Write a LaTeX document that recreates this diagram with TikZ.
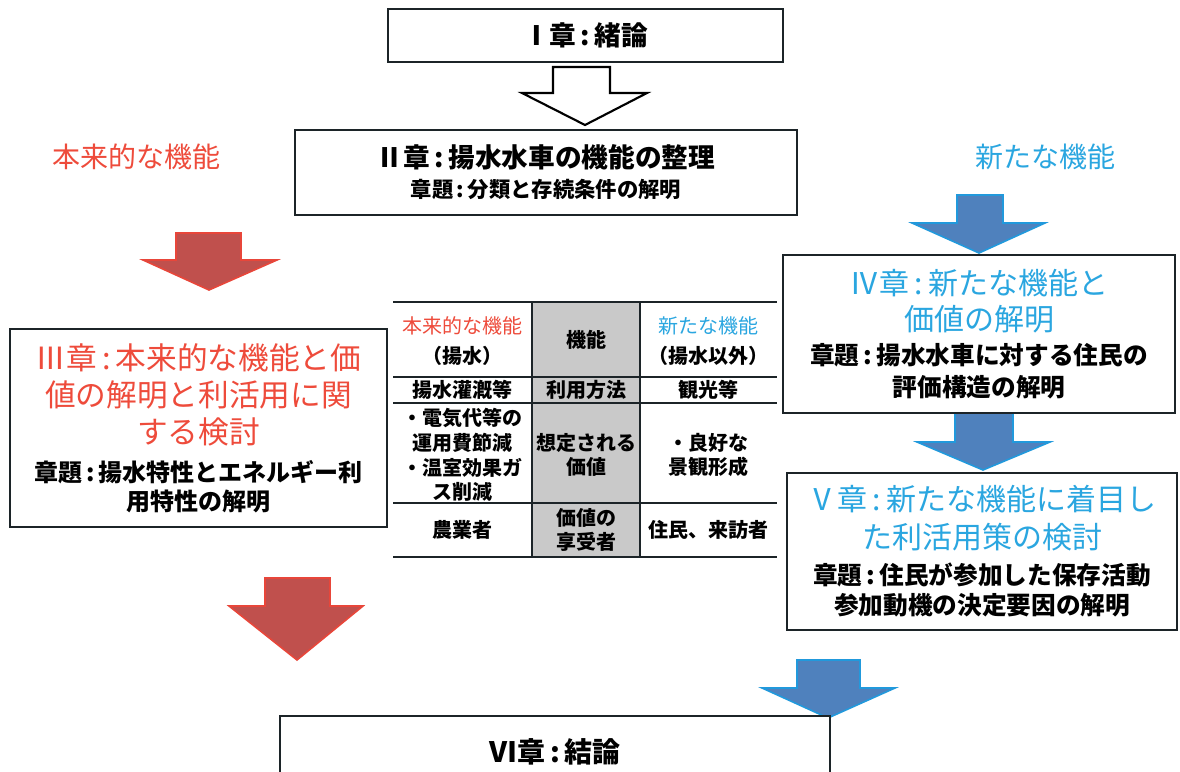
\documentclass[tikz,border=0pt]{standalone}
\usepackage{fontspec}
\setmainfont{Noto Sans CJK JP}
\definecolor{boxline}{HTML}{1C2428}
\definecolor{redtext}{HTML}{EE4B3B}
\definecolor{bluetext}{HTML}{2AA6E0}
\definecolor{redfill}{HTML}{C0504D}
\definecolor{rededge}{HTML}{E8463A}
\definecolor{bluefill}{HTML}{4F81BD}
\definecolor{blueedge}{HTML}{2199DC}
\definecolor{cellgray}{HTML}{C9C9C9}
\newcommand\subtxt[2]{{\fontsize{#1}{#1}\selectfont\bfseries #2}}
\newcommand\cln{\,:\,}
\begin{document}
\begin{tikzpicture}[x=0.75pt,y=-0.75pt,
  box/.style={draw=boxline, line width=1.5pt, fill=white, inner sep=0pt, align=center},
  cell/.style={align=center, inner sep=0pt, font=\fontsize{15pt}{18pt}\selectfont\bfseries},
  tline/.style={draw=boxline, line width=1.5pt},
  redarrow/.style={fill=redfill, draw=rededge, line width=1.2pt, line join=miter},
  bluearrow/.style={fill=bluefill, draw=blueedge, line width=1.2pt, line join=miter},
  hollowarrow/.style={fill=white, draw=black, line width=1.6pt, line join=miter},
  sidelabel/.style={inner sep=0pt, font=\fontsize{21pt}{21pt}\selectfont}
]
\useasboundingbox (0,0) rectangle (1180,771);
\clip (0,0) rectangle (1180,771);
\fill[white] (0,0) rectangle (1180,771);

% block arrows
\draw[hollowarrow] (553,67) -- (610,67) -- (610,93) -- (647,93) -- (585,125) -- (522,93) -- (553,93) -- cycle;
\draw[redarrow] (176,233) -- (241,233) -- (241,260) -- (277,260) -- (209,290) -- (143,260) -- (176,260) -- cycle;
\draw[redarrow] (265,578) -- (330,578) -- (330,606) -- (363,606) -- (297,660) -- (229,606) -- (265,606) -- cycle;
\draw[bluearrow] (957,195) -- (1003,195) -- (1003,223) -- (1045,223) -- (979,253) -- (912,223) -- (957,223) -- cycle;
\draw[bluearrow] (955,410) -- (1013,410) -- (1013,442) -- (1050,442) -- (983,470) -- (917,442) -- (955,442) -- cycle;
\draw[bluearrow] (797,660) -- (860,660) -- (860,688) -- (895,688) -- (828,718) -- (762,688) -- (797,688) -- cycle;

% side labels
\node[sidelabel, text=redtext] (lred) at (136,157) {本来的な機能};
\node[sidelabel, text=bluetext] (lblue) at (1045,157) {新たな機能};

% boxes
\node[box, minimum width=296.25pt, minimum height=39.75pt, font=\fontsize{20pt}{20pt}\selectfont\bfseries] (b1) at (585.5,35.5) {Ⅰ章\cln 緒論};

\node[box, minimum width=376.5pt, minimum height=63.75pt, font=\fontsize{20pt}{22.5pt}\selectfont\bfseries] (b2) at (546,172.5)
  {Ⅱ章\cln 揚水水車の機能の整理\\ \subtxt{16pt}{章題\cln 分類と存続条件の解明}};

\node[box, minimum width=282.75pt, minimum height=148.5pt, font=\fontsize{23pt}{28pt}\selectfont] (b3) at (198.5,428)
  {\textcolor{redtext}{Ⅲ章\cln 本来的な機能と価}\\
   \textcolor{redtext}{値の解明と利活用に関}\\
   \textcolor{redtext}{する検討}\\
   \subtxt{18pt}{章題\cln 揚水特性とエネルギー利}\\[-6pt]
   \subtxt{18pt}{用特性の解明}};

\node[box, minimum width=294pt, minimum height=118.5pt, font=\fontsize{22.5pt}{27pt}\selectfont] (b4) at (979,334)
  {\textcolor{bluetext}{Ⅳ章\cln 新たな機能と}\\
   \textcolor{bluetext}{価値の解明}\\[-1pt]
   \subtxt{18.5pt}{章題\cln 揚水水車に対する住民の}\\[-3pt]
   \subtxt{18.5pt}{評価構造の解明}};

\node[box, minimum width=292.5pt, minimum height=117.75pt, font=\fontsize{22.5pt}{29pt}\selectfont] (b5) at (982,551.5)
  {\textcolor{bluetext}{Ⅴ章\cln 新たな機能に着目し}\\[-1pt]
   \textcolor{bluetext}{た利活用策の検討}\\[-2pt]
   \subtxt{18.5pt}{章題\cln 住民が参加した保存活動}\\[-6pt]
   \subtxt{18.5pt}{参加動機の決定要因の解明}};

\node[box, minimum width=412.5pt, minimum height=54pt, font=\fontsize{21pt}{21pt}\selectfont\bfseries] (b6) at (555,752) {Ⅵ章\cln 結論};

% table
\fill[cellgray] (532,302) rectangle (640,557);
\draw[tline] (393,302) -- (777,302);
\draw[tline] (393,377) -- (777,377);
\draw[tline] (393,403) -- (777,403);
\draw[tline] (393,503) -- (777,503);
\draw[tline] (393,557) -- (777,557);
\draw[tline] (532,302) -- (532,557);
\draw[tline] (640,302) -- (640,557);

\node[cell] (t11) at (462.5,341) {\textcolor{redtext}{\mdseries 本来的な機能}\\[4pt]（揚水）};
\node[cell] (t12) at (586,339.5) {機能};
\node[cell] (t13) at (708.5,341) {\textcolor{bluetext}{\mdseries 新たな機能}\\[4pt]（揚水以外）};
\node[cell] (t21) at (462.5,390) {揚水灌漑等};
\node[cell] (t22) at (586,390) {利用方法};
\node[cell] (t23) at (708.5,390) {観光等};
\node[cell] (t31) at (462.5,455) {・電気代等の\\[0.5pt]運用費節減\\[0.5pt]・温室効果ガ\\[0.5pt]ス削減};
\node[cell] (t32) at (586,455) {想定される\\[0.5pt]価値};
\node[cell] (t33) at (708.5,455) {・良好な\\[0.5pt]景観形成};
\node[cell] (t41) at (462.5,530) {農業者};
\node[cell] (t42) at (586,530) {価値の\\[0.5pt]享受者};
\node[cell] (t43) at (708.5,530) {住民、来訪者};
\end{tikzpicture}
\end{document}
